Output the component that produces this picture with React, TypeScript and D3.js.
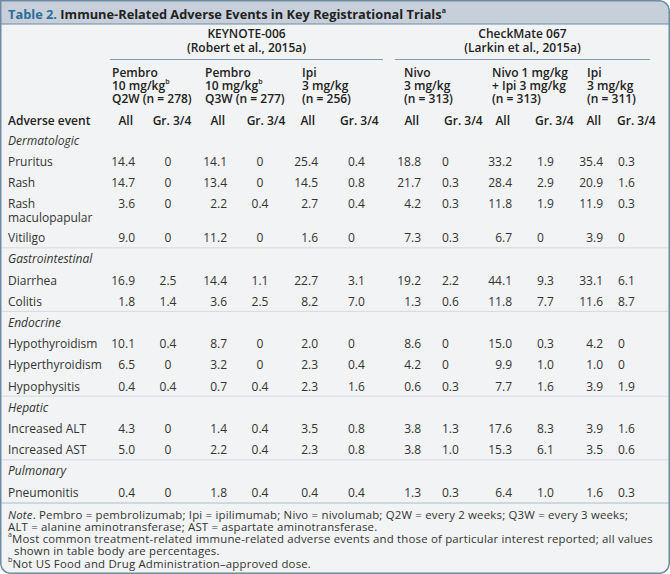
import React from "react";
import * as d3 from "d3";

// ---------- DATA ----------
const titleLead = "Table 2.";
const titleText = " Immune-Related Adverse Events in Key Registrational Trials";
const trialNames = ["KEYNOTE-006", "CheckMate 067"];
const trialRefs = ["(Robert et al., 2015a)", "(Larkin et al., 2015a)"];
const armLine1 = ["Pembro", "Pembro", "Ipi", "Nivo", "Nivo 1 mg/kg", "Ipi"];
const armLine2 = ["10 mg/kg", "10 mg/kg", "3 mg/kg", "3 mg/kg", "+ Ipi 3 mg/kg", "3 mg/kg"];
const armLine2Sup = ["b", "b", "", "", "", ""];
const armLine3 = ["Q2W (n = 278)", "Q3W (n = 277)", "(n = 256)", "(n = 313)", "(n = 313)", "(n = 311)"];
const subHeaders = ["All", "Gr. 3/4"];
const firstColHeader = "Adverse event";

const categories = ["Dermatologic", "Gastrointestinal", "Endocrine", "Hepatic", "Pulmonary"];
const eventNames = [
  "Pruritus", "Rash", "Rash|maculopapular", "Vitiligo",
  "Diarrhea", "Colitis",
  "Hypothyroidism", "Hyperthyroidism", "Hypophysitis",
  "Increased ALT", "Increased AST",
  "Pneumonitis",
];
const eventCategory = [0, 0, 0, 0, 1, 1, 2, 2, 2, 3, 3, 4];

const pembroQ2wAll = [14.4, 14.7, 3.6, 9.0, 16.9, 1.8, 10.1, 6.5, 0.4, 4.3, 5.0, 0.4];
const pembroQ2wG34 = [0, 0, 0, 0, 2.5, 1.4, 0.4, 0, 0.4, 0, 0, 0];
const pembroQ3wAll = [14.1, 13.4, 2.2, 11.2, 14.4, 3.6, 8.7, 3.2, 0.7, 1.4, 2.2, 1.8];
const pembroQ3wG34 = [0, 0, 0.4, 0, 1.1, 2.5, 0, 0, 0.4, 0.4, 0.4, 0.4];
const ipiK006All = [25.4, 14.5, 2.7, 1.6, 22.7, 8.2, 2.0, 2.3, 2.3, 3.5, 2.3, 0.4];
const ipiK006G34 = [0.4, 0.8, 0.4, 0, 3.1, 7.0, 0, 0.4, 1.6, 0.8, 0.8, 0.4];
const nivoAll = [18.8, 21.7, 4.2, 7.3, 19.2, 1.3, 8.6, 4.2, 0.6, 3.8, 3.8, 1.3];
const nivoG34 = [0, 0.3, 0.3, 0.3, 2.2, 0.6, 0, 0, 0.3, 1.3, 1.0, 0.3];
const comboAll = [33.2, 28.4, 11.8, 6.7, 44.1, 11.8, 15.0, 9.9, 7.7, 17.6, 15.3, 6.4];
const comboG34 = [1.9, 2.9, 1.9, 0, 9.3, 7.7, 0.3, 1.0, 1.6, 8.3, 6.1, 1.0];
const ipiC067All = [35.4, 20.9, 11.9, 3.9, 33.1, 11.6, 4.2, 1.0, 3.9, 3.9, 3.5, 1.6];
const ipiC067G34 = [0.3, 1.6, 0.3, 0, 6.1, 8.7, 0, 0, 1.9, 1.6, 0.6, 0.3];

const noteLines = [
  "Pembro = pembrolizumab; Ipi = ipilimumab; Nivo = nivolumab; Q2W = every 2 weeks; Q3W = every 3 weeks;",
  "ALT = alanine aminotransferase; AST = aspartate aminotransferase.",
  "Most common treatment-related immune-related adverse events and those of particular interest reported; all values",
  "shown in table body are percentages.",
  "Not US Food and Drug Administration\u2013approved dose.",
];
const noteMarks = ["Note", "", "a", "", "b"];

// ---------- LAYOUT ----------
const W = 670;
const H = 574;
const FONT = "'Open Sans', sans-serif";
const TXT = "#333333";
const HEAD = "#222222";
const BORDER = "#6f8ba3";
const HW = 600;

const columns = [
  pembroQ2wAll, pembroQ2wG34, pembroQ3wAll, pembroQ3wG34, ipiK006All, ipiK006G34,
  nivoAll, nivoG34, comboAll, comboG34, ipiC067All, ipiC067G34,
];
const colKeys = d3.range(columns.length);
const colX = d3.scaleOrdinal<number, number>().domain(colKeys)
  .range([135, 168, 227, 260, 318, 348, 421, 442, 512, 537, 603, 618]);
const colAnchor = d3.scaleOrdinal<number, string>().domain(colKeys)
  .range(["end", "middle", "end", "middle", "end", "start", "end", "start", "end", "start", "end", "start"]);
const subX = d3.scaleOrdinal<number, number>().domain(colKeys)
  .range([133, 172, 225, 266, 315, 340, 419, 444, 510, 535, 601, 617]);
const armX = d3.scaleOrdinal<number, number>().domain(d3.range(6)).range([112, 205, 302, 404, 492, 587]);
const trialSpan = [[110, 383], [395, 650]];

const fmt = (v: number) => (v === 0 ? "0" : d3.format(".1f")(v));

type Row = { kind: "cat" | "ev"; label: string; idx: number; h: number };
const rows: Row[] = [];
categories.forEach((c, ci) => {
  rows.push({ kind: "cat", label: c, idx: ci, h: 21.2 });
  eventNames.forEach((e, ei) => {
    if (eventCategory[ei] === ci) rows.push({ kind: "ev", label: e, idx: ei, h: e.includes("|") ? 34 : 21.2 });
  });
});
const starts = [0, ...d3.cumsum(rows.map((r) => r.h))];
const y0 = 140;
const rowY = (i: number) => y0 + starts[i];

export default function App() {
  React.useEffect(() => {
    document.body.style.margin = "0";
  }, []);

  const seps: number[] = [];
  rows.forEach((r, i) => {
    if (r.kind === "cat" && i > 0) seps.push(rowY(i) - 11);
  });
  const lastSep = rowY(rows.length - 1) + 11;

  const R = 10;
  const outline = `M0.75,0.75 H${W - R} A${R},${R} 0 0 1 ${W - 0.75},${R} V${H - R} A${R},${R} 0 0 1 ${W - R},${H - 0.75} H${R} A${R},${R} 0 0 1 0.75,${H - R} Z`;
  const titleBar = `M0.75,0.75 H${W - R} A${R},${R} 0 0 1 ${W - 0.75},${R} V24 H0.75 Z`;

  return (
    <svg width={W} height={H} style={{ position: "absolute", left: 0, top: 0 }} fontFamily={FONT}>
      <path d={outline} fill="#f1f3f4" stroke="none" />
      <path d={titleBar} fill="#c7d0da" />
      <line x1={0} x2={W} y1={24} y2={24} stroke={BORDER} strokeWidth={1.2} />
      <text x={8} y={14} dominantBaseline="central" fontSize={12.8} fontWeight={700} fill={HEAD}>
        <tspan fill="#2c6c97">{titleLead}</tspan>
        <tspan>{titleText}</tspan>
        <tspan fontSize={7} dy={-4}>a</tspan>
      </text>

      {trialNames.map((t, i) => {
        const cx = (trialSpan[i][0] + trialSpan[i][1]) / 2;
        return (
          <g key={t} fontSize={12} fontWeight={HW} fill={HEAD}>
            <text x={cx} y={33} textAnchor="middle" dominantBaseline="central">{t}</text>
            <text x={cx} y={47} textAnchor="middle" dominantBaseline="central">{trialRefs[i]}</text>
            <line x1={trialSpan[i][0]} x2={trialSpan[i][1]} y1={59.5} y2={59.5} stroke="#7f9bb1" strokeWidth={1} />
          </g>
        );
      })}

      {armLine1.map((a, i) => (
        <g key={i} fontSize={12} fontWeight={HW} fill={HEAD}>
          <text x={armX(i)} y={72} dominantBaseline="central">{a}</text>
          <text x={armX(i)} y={85} dominantBaseline="central">
            {armLine2[i]}
            {armLine2Sup[i] ? <tspan fontSize={7} dy={-4}>{armLine2Sup[i]}</tspan> : null}
          </text>
          <text x={armX(i)} y={98} dominantBaseline="central">{armLine3[i]}</text>
        </g>
      ))}

      <text x={8} y={120} dominantBaseline="central" fontSize={12} fontWeight={HW} fill={HEAD}>{firstColHeader}</text>
      {colKeys.map((c) => (
        <text key={c} x={subX(c)} y={120} dominantBaseline="central" fontSize={12} fontWeight={HW} fill={HEAD}
          textAnchor={c % 2 === 0 ? "end" : c < 4 ? "middle" : "start"}>
          {subHeaders[c % 2]}
        </text>
      ))}

      {seps.map((s, i) => (
        <line key={i} x1={0} x2={W} y1={s} y2={s} stroke="#d5dbe0" strokeWidth={1} />
      ))}
      <line x1={0} x2={W} y1={lastSep} y2={lastSep} stroke="#a9bccb" strokeWidth={1} />

      {rows.map((r, i) => {
        const y = rowY(i);
        if (r.kind === "cat") {
          return (
            <text key={i} x={8} y={y} dominantBaseline="central" fontSize={12} fontStyle="italic" fill={TXT}>{r.label}</text>
          );
        }
        const parts = r.label.split("|");
        return (
          <g key={i} fontSize={12} fill={TXT}>
            {parts.map((p, k) => (
              <text key={k} x={8} y={y + k * 14} dominantBaseline="central">{p}</text>
            ))}
            {columns.map((col, c) => (
              <text key={c} x={colX(c)} y={y} dominantBaseline="central" textAnchor={colAnchor(c)}>{fmt(col[r.idx])}</text>
            ))}
          </g>
        );
      })}

      {noteLines.map((n, i) => {
        const mark = noteMarks[i];
        const y = 514 + i * 12.2;
        return (
          <text key={i} x={mark === "" && i === 3 ? 14 : 8} y={y} dominantBaseline="central" fontSize={11.4}
            letterSpacing={0.2} fill={TXT}>
            {mark === "Note" ? (
              <>
                <tspan fontStyle="italic">Note</tspan>
                <tspan>{". " + n}</tspan>
              </>
            ) : mark ? (
              <>
                <tspan fontSize={7} dy={-4}>{mark}</tspan>
                <tspan dy={4}>{n}</tspan>
              </>
            ) : (
              n
            )}
          </text>
        );
      })}

      <path d={outline} fill="none" stroke={BORDER} strokeWidth={1.5} />
    </svg>
  );
}
